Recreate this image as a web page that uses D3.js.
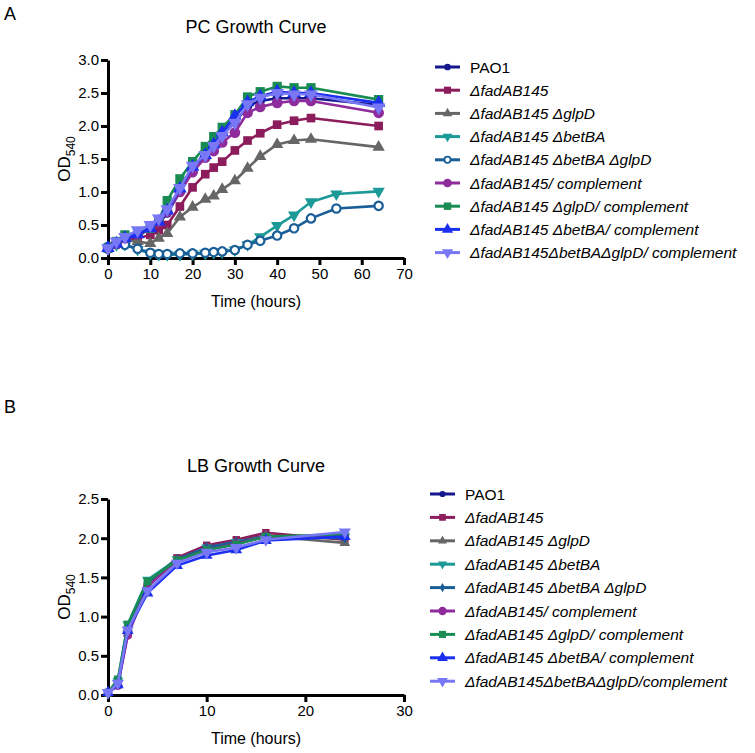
<!DOCTYPE html>
<html><head><meta charset="utf-8">
<script src="https://cdn.jsdelivr.net/npm/d3@7"></script>
<style>
html,body{margin:0;padding:0;background:#fff;}
svg{display:block;font-family:"Liberation Sans",Arial,sans-serif;}
</style></head>
<body>
<svg id="chart" width="755" height="753"></svg>
<script>
// ---------- data ----------
const seriesNames = ["PAO1","ΔfadAB145","ΔfadAB145 ΔglpD","ΔfadAB145 ΔbetBA","ΔfadAB145 ΔbetBA ΔglpD","ΔfadAB145/ complement","ΔfadAB145 ΔglpD/ complement","ΔfadAB145 ΔbetBA/ complement","ΔfadAB145ΔbetBAΔglpD/ complement"];
const seriesNamesB = ["PAO1","ΔfadAB145","ΔfadAB145 ΔglpD","ΔfadAB145 ΔbetBA","ΔfadAB145 ΔbetBA ΔglpD","ΔfadAB145/ complement","ΔfadAB145 ΔglpD/ complement","ΔfadAB145 ΔbetBA/ complement","ΔfadAB145ΔbetBAΔglpD/complement"];
const seriesColors = ["#15188c","#8c1c5c","#666666","#1c9a98","#1a5e98","#8e2c9c","#188c52","#1a2ff0","#7878f6"];

const pcTime   = [0,2,4,7,10,12,14,17,20,23,25,27,30,33,36,40,44,48,64];
const pcTime54 = [0,2,4,7,10,12,14,17,20,23,25,27,30,33,36,40,44,48,54,64];
const pcPAO1      = [0.13,0.20,0.27,0.33,0.45,0.52,0.68,1.00,1.35,1.55,1.72,1.88,2.05,2.30,2.38,2.42,2.42,2.42,2.32];
const pcFad       = [0.15,0.22,0.26,0.30,0.35,0.42,0.50,0.78,1.07,1.27,1.37,1.46,1.63,1.78,1.89,2.02,2.08,2.12,2.00];
const pcGlpD      = [0.15,0.22,0.27,0.25,0.22,0.30,0.37,0.62,0.77,0.89,0.94,1.04,1.17,1.36,1.54,1.72,1.78,1.80,1.68];
const pcBetBA     = [0.15,0.20,0.20,0.13,0.07,0.05,0.05,0.05,0.06,0.07,0.08,0.09,0.12,0.20,0.32,0.49,0.65,0.85,0.97,1.01];
const pcBetGlp    = [0.17,0.22,0.20,0.14,0.08,0.06,0.06,0.07,0.07,0.08,0.09,0.10,0.12,0.20,0.26,0.34,0.45,0.60,0.75,0.79];
const pcComp      = [0.15,0.22,0.30,0.36,0.45,0.55,0.70,1.00,1.30,1.52,1.62,1.75,1.90,2.20,2.29,2.35,2.38,2.38,2.20];
const pcGlpComp   = [0.15,0.25,0.35,0.38,0.45,0.57,0.87,1.20,1.46,1.69,1.84,1.98,2.17,2.44,2.52,2.60,2.58,2.58,2.40];
const pcBetComp   = [0.15,0.22,0.30,0.36,0.45,0.55,0.72,1.05,1.38,1.56,1.72,1.90,2.15,2.36,2.45,2.52,2.50,2.50,2.35];
const pcTripleComp= [0.15,0.25,0.32,0.42,0.50,0.60,0.74,1.06,1.40,1.56,1.70,1.85,2.05,2.33,2.43,2.50,2.48,2.48,2.28];

const lbTime = [0,1,2,4,7,10,13,16,24];
const lbPAO1      = [0.03,0.15,0.85,1.42,1.73,1.90,1.97,2.03,2.00];
const lbFad       = [0.03,0.13,0.78,1.40,1.75,1.91,1.98,2.07,1.98];
const lbGlpD      = [0.03,0.15,0.85,1.40,1.72,1.87,1.95,2.03,1.94];
const lbBetBA     = [0.03,0.18,0.90,1.47,1.73,1.88,1.95,2.02,2.02];
const lbBetGlp    = [0.03,0.15,0.87,1.43,1.73,1.88,1.95,2.02,2.00];
const lbComp      = [0.03,0.12,0.76,1.38,1.72,1.85,1.93,2.02,2.03];
const lbGlpComp   = [0.03,0.20,0.90,1.45,1.72,1.85,1.92,2.02,2.05];
const lbBetComp   = [0.03,0.13,0.82,1.30,1.65,1.78,1.85,1.97,2.02];
const lbTripleComp= [0.03,0.15,0.83,1.33,1.68,1.82,1.88,1.98,2.08];

const pcXTicks = [0,10,20,30,40,50,60,70];
const pcYTicks = [0,0.5,1,1.5,2,2.5,3];
const lbXTicks = [0,10,20,30];
const lbYTicks = [0,0.5,1,1.5,2,2.5];

// ---------- helpers ----------
const svg = d3.select("#chart");
const symTriDown = { draw(ctx, size){ const s = Math.sqrt(size/ (Math.sqrt(3)/4)); const h = s*Math.sqrt(3)/2;
  ctx.moveTo(-s/2, -h/3); ctx.lineTo(s/2, -h/3); ctx.lineTo(0, 2*h/3); ctx.closePath(); } };
const symTriUp = { draw(ctx, size){ const s = Math.sqrt(size/ (Math.sqrt(3)/4)); const h = s*Math.sqrt(3)/2;
  ctx.moveTo(-s/2, h/3); ctx.lineTo(s/2, h/3); ctx.lineTo(0, -2*h/3); ctx.closePath(); } };

function drawPanel(cfg){
  const g = svg.append("g");
  const x = d3.scaleLinear().domain(cfg.xDomain).range([108,404]);
  const y = d3.scaleLinear().domain(cfg.yDomain).range([cfg.y0, cfg.y1]);

  const xAxis = g.append("g").attr("transform",`translate(0,${cfg.y0})`)
    .call(d3.axisBottom(x).tickValues(cfg.xTicks).tickFormat(d3.format("d")).tickSize(7).tickSizeOuter(0).tickPadding(3));
  const yAxis = g.append("g").attr("transform",`translate(108,0)`)
    .call(d3.axisLeft(y).tickValues(cfg.yTicks).tickFormat(d3.format(".1f")).tickSize(7).tickSizeOuter(0).tickPadding(2));
  [xAxis,yAxis].forEach(a=>{
    a.selectAll("path.domain").attr("stroke","#000").attr("stroke-width",3);
    a.selectAll(".tick line").attr("stroke","#000").attr("stroke-width",3);
    a.selectAll(".tick text").attr("fill","#000").style("font-size","15px").style("font-family","Liberation Sans, Arial, sans-serif");
  });

  // series
  cfg.series.forEach((s,i)=>{
    const pts = s.t.map((t,k)=>[t,s.v[k]]);
    g.append("path").datum(pts)
      .attr("fill","none").attr("stroke",s.color).attr("stroke-width",2.6).attr("stroke-linejoin","round")
      .attr("d", d3.line().x(d=>x(d[0])).y(d=>y(d[1])));
    g.selectAll(null).data(pts).enter().append("path")
      .attr("transform",d=>`translate(${x(d[0])},${y(d[1])})`)
      .attr("d", d3.symbol().type(s.sym).size(s.size))
      .attr("fill", s.open ? "#fff" : s.color)
      .attr("stroke", s.color).attr("stroke-width", s.open ? 2.2 : 0);
  });

  // title
  svg.append("text").attr("x",256).attr("y",cfg.titleY).attr("text-anchor","middle")
    .style("font-size","18px").text(cfg.title);
  // x label
  svg.append("text").attr("x",256).attr("y",cfg.y0+49).attr("text-anchor","middle")
    .style("font-size","16px").text("Time (hours)");
  // y label OD540
  const yl = svg.append("text").attr("transform",`translate(70,${(cfg.y0+cfg.y1)/2}) rotate(-90)`)
    .attr("text-anchor","middle").style("font-size","17px");
  yl.append("tspan").text("OD");
  yl.append("tspan").attr("dy",5).style("font-size","12px").text("540");
  // panel letter
  svg.append("text").attr("x",4).attr("y",cfg.letterY).style("font-size","18px").text(cfg.letter);

  // legend
  const lg = svg.append("g");
  cfg.series.forEach((s,i)=>{
    const yy = cfg.legY + i*cfg.legStep;
    lg.append("line").attr("x1",cfg.legX).attr("x2",cfg.legX+25).attr("y1",yy).attr("y2",yy)
      .attr("stroke",s.color).attr("stroke-width",3);
    lg.append("path").attr("transform",`translate(${cfg.legX+12.5},${yy})`)
      .attr("d", d3.symbol().type(s.sym).size(s.legSize))
      .attr("fill", s.open ? "#fff" : s.color)
      .attr("stroke", s.color).attr("stroke-width", s.open ? 1.8 : 0);
    lg.append("text").attr("x",cfg.legX+35).attr("y",yy+5.5)
      .style("font-size","15.5px").style("font-style", i===0 ? "normal" : "italic")
      .text(s.name);
  });
}

const pcSeries = [
  {t:pcTime,   v:pcPAO1,       sym:d3.symbolCircle, size:70, legSize:35},
  {t:pcTime,   v:pcFad,        sym:d3.symbolSquare, size:75, legSize:50},
  {t:pcTime,   v:pcGlpD,       sym:symTriUp,        size:65, legSize:40},
  {t:pcTime54, v:pcBetBA,      sym:symTriDown,      size:65, legSize:40},
  {t:pcTime54, v:pcBetGlp,     sym:d3.symbolCircle, size:55, legSize:30, open:true},
  {t:pcTime,   v:pcComp,       sym:d3.symbolCircle, size:90, legSize:60},
  {t:pcTime,   v:pcGlpComp,    sym:d3.symbolSquare, size:85, legSize:55},
  {t:pcTime,   v:pcBetComp,    sym:symTriUp,        size:80, legSize:55},
  {t:pcTime,   v:pcTripleComp, sym:symTriDown,      size:80, legSize:55}
].map((s,i)=>Object.assign(s,{name:seriesNames[i], color:seriesColors[i]}));

const lbSeries = [
  {t:lbTime, v:lbPAO1,       sym:d3.symbolCircle,  size:45, legSize:30},
  {t:lbTime, v:lbFad,        sym:d3.symbolSquare,  size:55, legSize:45},
  {t:lbTime, v:lbGlpD,       sym:symTriUp,         size:50, legSize:35},
  {t:lbTime, v:lbBetBA,      sym:symTriDown,       size:50, legSize:35},
  {t:lbTime, v:lbBetGlp,     sym:d3.symbolDiamond, size:35, legSize:25},
  {t:lbTime, v:lbComp,       sym:d3.symbolCircle,  size:60, legSize:55},
  {t:lbTime, v:lbGlpComp,    sym:d3.symbolSquare,  size:60, legSize:50},
  {t:lbTime, v:lbBetComp,    sym:symTriUp,         size:60, legSize:50},
  {t:lbTime, v:lbTripleComp, sym:symTriDown,       size:65, legSize:50}
].map((s,i)=>Object.assign(s,{name:seriesNamesB[i], color:seriesColors[i]}));

drawPanel({xDomain:[0,70], yDomain:[0,3], y0:258, y1:60, xTicks:pcXTicks, yTicks:pcYTicks,
  series:pcSeries, title:"PC Growth Curve", titleY:33, letter:"A", letterY:20,
  legX:435, legY:67, legStep:23.2});
drawPanel({xDomain:[0,30], yDomain:[0,2.5], y0:695, y1:499, xTicks:lbXTicks, yTicks:lbYTicks,
  series:lbSeries, title:"LB Growth Curve", titleY:472, letter:"B", letterY:413,
  legX:430, legY:494, legStep:23.4});
</script>
</body></html>
